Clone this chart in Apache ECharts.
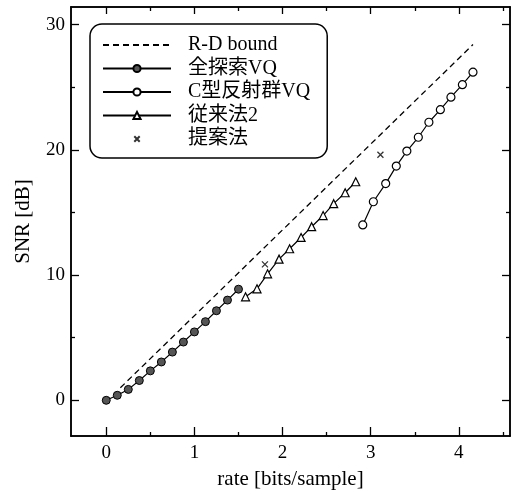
<!DOCTYPE html>
<html><head><meta charset="utf-8">
<script src="https://cdn.jsdelivr.net/npm/echarts@6/dist/echarts.min.js"></script>
<style>html,body{margin:0;padding:0;background:#fff}#c{width:513px;height:495px}</style>
</head><body><div id="c"></div>
<script>
// ---- data ----
const seriesNames = ['R-D bound', '全探索VQ', 'C型反射群VQ', '従来法2', '提案法'];
const rdX = [0.16, 4.16];
const rdY = [1.0, 28.4];
const fullX = [0, 0.125, 0.25, 0.375, 0.5, 0.625, 0.75, 0.875, 1.0, 1.125, 1.25, 1.375, 1.5];
const fullY = [0, 0.4, 0.87, 1.58, 2.35, 3.06, 3.85, 4.65, 5.46, 6.28, 7.15, 8.0, 8.87];
const cX = [2.91, 3.03, 3.17, 3.29, 3.41, 3.54, 3.66, 3.79, 3.91, 4.04, 4.16];
const cY = [14.0, 15.85, 17.3, 18.7, 19.9, 21.0, 22.2, 23.2, 24.2, 25.2, 26.2];
const convX = [1.58, 1.71, 1.83, 1.96, 2.08, 2.21, 2.33, 2.46, 2.58, 2.71, 2.83];
const convY = [8.26, 8.9, 10.1, 11.27, 12.1, 13.0, 13.86, 14.75, 15.7, 16.57, 17.45];
const propX = [1.80, 3.11];
const propY = [10.85, 19.6];
const xMajor = [0, 1, 2, 3, 4];
const xMinor = [0.5, 1.5, 2.5, 3.5, 4.5];
const yMajor = [0, 10, 20, 30];
const yMinor = [5, 15, 25];
const xRange = [-0.4, 4.58];
const yRange = [-2.85, 31.4];
const xTitle = 'rate [bits/sample]';
const yTitle = 'SNR [dB]';

const zip = (a, b) => a.map((v, i) => [v, b[i]]);
const FONT = '"Liberation Serif", "Noto Sans CJK JP", serif';
const lineW = 1.5;

function xAxisDef(pos, ticks, len, labels, name) {
  return {
    type: 'value', position: pos, min: xRange[0], max: xRange[1],
    axisLine: {show: true, onZero: false, lineStyle: {color: '#000', width: lineW}},
    axisTick: {show: true, inside: true, length: len, customValues: ticks, lineStyle: {color: '#000', width: 1.3}},
    axisLabel: labels ? {show: true, customValues: labels, color: '#000', fontSize: 19, fontFamily: FONT, margin: 8} : {show: false},
    splitLine: {show: false},
    name: name || '', nameLocation: 'middle', nameGap: 33,
    nameTextStyle: {color: '#000', fontSize: 21, fontFamily: FONT}
  };
}
function yAxisDef(pos, ticks, len, labels, name) {
  return {
    type: 'value', position: pos, min: yRange[0], max: yRange[1],
    axisLine: {show: true, onZero: false, lineStyle: {color: '#000', width: lineW}},
    axisTick: {show: true, inside: true, length: len, customValues: ticks, lineStyle: {color: '#000', width: 1.3}},
    axisLabel: labels ? {show: true, customValues: labels, color: '#000', fontSize: 19, fontFamily: FONT, margin: 6} : {show: false},
    splitLine: {show: false},
    name: name || '', nameLocation: 'middle', nameGap: 37,
    nameTextStyle: {color: '#000', fontSize: 21, fontFamily: FONT}
  };
}

const crossPath = 'path://M0,0M20,20M7,7L13,13M13,7L7,13';
const crossLegend = 'path://M0,0M20,20M4,4L16,16M16,4L4,16';

const chart = echarts.init(document.getElementById('c'), null, {renderer: 'canvas'});
chart.setOption({
  animation: false,
  backgroundColor: '#fff',
  grid: {left: 71, right: 3, top: 7, bottom: 54, containLabel: false},
  xAxis: [
    xAxisDef('bottom', xMajor, 9, xMajor, xTitle),
    xAxisDef('bottom', xMinor, 4, null, null),
    xAxisDef('top', xMajor, 7, null, null),
    xAxisDef('top', xMinor, 4, null, null)
  ],
  yAxis: [
    yAxisDef('left', yMajor, 8, yMajor, yTitle),
    yAxisDef('left', yMinor, 4, null, null),
    yAxisDef('right', yMajor, 8, null, null),
    yAxisDef('right', yMinor, 4, null, null)
  ],
  legend: {
    orient: 'vertical', left: 90, top: 24,
    backgroundColor: '#fff', borderColor: '#000', borderWidth: 1.5, borderRadius: 12,
    padding: [11, 17, 9, 12],
    itemWidth: 68, itemHeight: 9, itemGap: 3.5,
    textStyle: {color: '#000', fontSize: 20, lineHeight: 20, fontFamily: FONT, padding: [0, 0, 0, 12]},
    data: [
      {name: seriesNames[0], itemStyle: {opacity: 0}},
      {name: seriesNames[1]},
      {name: seriesNames[2]},
      {name: seriesNames[3]},
      {name: seriesNames[4], icon: crossLegend}
    ]
  },
  series: [
    {name: seriesNames[0], type: 'line', data: zip(rdX, rdY), symbol: 'none', showSymbol: false,
     lineStyle: {color: '#000', width: 1.3, type: [6, 4]}, itemStyle: {color: '#000'}},
    {name: seriesNames[1], type: 'line', data: zip(fullX, fullY), symbol: 'circle', symbolSize: 8,
     lineStyle: {color: '#000', width: 1.2}, itemStyle: {color: '#555', borderColor: '#000', borderWidth: 1}},
    {name: seriesNames[2], type: 'line', data: zip(cX, cY), symbol: 'circle', symbolSize: 8,
     lineStyle: {color: '#000', width: 1.2}, itemStyle: {color: '#fff', borderColor: '#000', borderWidth: 1.2}},
    {name: seriesNames[3], type: 'line', data: zip(convX, convY), symbol: 'triangle', symbolSize: 8,
     lineStyle: {color: '#000', width: 1.2}, itemStyle: {color: '#fff', borderColor: '#000', borderWidth: 1.2}},
    {name: seriesNames[4], type: 'scatter', data: zip(propX, propY), symbol: crossPath, symbolSize: 20,
     itemStyle: {color: 'rgba(0,0,0,0)', borderColor: '#000', borderWidth: 1.3}}
  ]
});
</script></body></html>
